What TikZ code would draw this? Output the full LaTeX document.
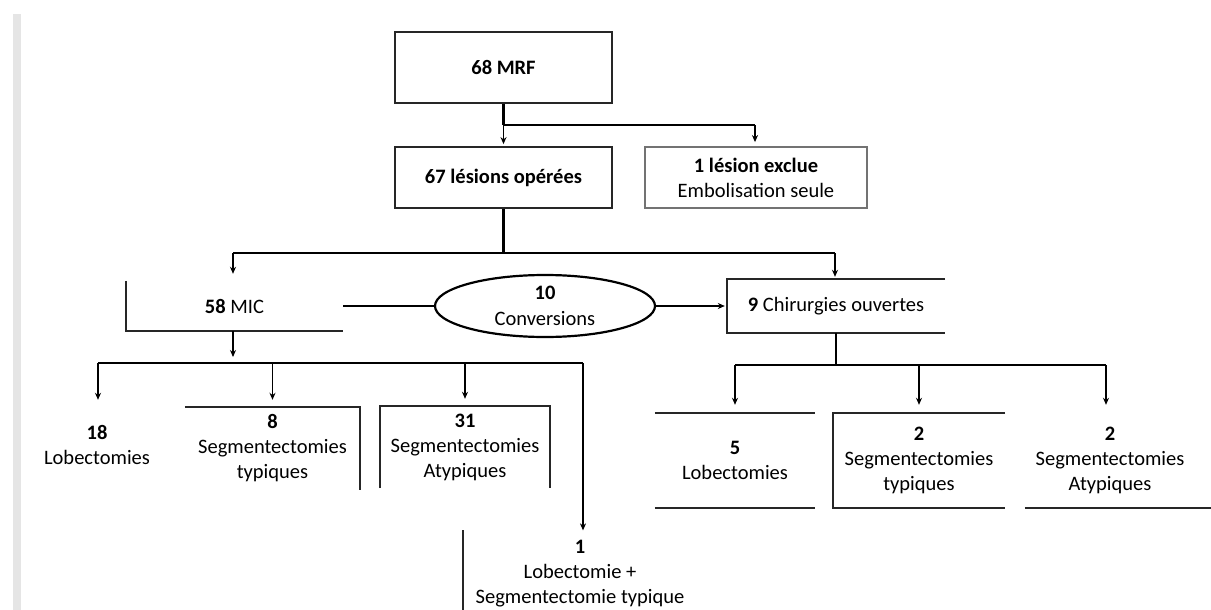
\documentclass[tikz,border=0pt]{standalone}
\usepackage{fontspec}
\setmainfont{Carlito}
\usetikzlibrary{arrows.meta,shapes.geometric}
\begin{document}
\begin{tikzpicture}[x=1pt,y=-1pt,
  txt/.style={font=\fontsize{20.5}{25}\selectfont, align=center, inner sep=0pt},
  frame/.style={txt, rectangle, draw=black!85, line width=1.8pt},
  open/.style={txt, rectangle},
  border/.style={draw=black!85, line width=1.8pt},
  ln/.style={draw=black, line width=2.2pt},
  arr/.style={draw=black, line width=1.8pt, -{Stealth[length=7pt,width=6pt]}, shorten >=#1},
  arr/.default=2pt
]
\useasboundingbox (0,0) rectangle (1211,610);
\fill[white] (0,0) rectangle (1211,610);
\fill[gray!20] (13,14) rectangle (21,610);

% nodes
\node[frame, minimum width=217pt, minimum height=71pt] (mrf) at (503.5,67.5) {\textbf{68 MRF}};
\node[frame, minimum width=217pt, minimum height=61pt] (ops) at (503.5,177.5) {\textbf{67 lésions opérées}};
\node[frame, draw=black!55, minimum width=222pt, minimum height=61pt] (excl) at (756,177.5) {\textbf{1 lésion exclue}\\Embolisation seule};

\node[open, minimum width=217pt, minimum height=50pt] (mic) at (234.5,306) {\textbf{58} MIC};
\node[txt, ellipse, draw=black, line width=2.2pt, minimum width=220pt, minimum height=62pt] (conv) at (545,306) {\textbf{10}\\[1pt]Conversions};
\node[open, minimum width=218pt, minimum height=54pt] (ouv) at (836,306) {\textbf{9} Chirurgies ouvertes};

\node[txt] (lob18) at (97,445) {\textbf{18}\\Lobectomies};
\node[open, minimum width=175pt, minimum height=83pt] (seg8) at (272.5,448.5) {\textbf{8}\\Segmentectomies\\typiques};
\node[open, minimum width=170pt, minimum height=82pt] (seg31) at (465,447) {\textbf{31}\\Segmentectomies\\Atypiques};
\node[txt] (lob1) at (580,574) {\textbf{1}\\Lobectomie +\\Segmentectomie typique};

\node[open, minimum width=160pt, minimum height=95pt] (lob5) at (735,460.5) {\textbf{5}\\Lobectomies};
\node[open, minimum width=172pt, minimum height=95pt] (seg2t) at (919,460.5) {\textbf{2}\\Segmentectomies\\typiques};
\node[open, minimum width=170pt, minimum height=95pt] (seg2a) at (1110,460.5) {\textbf{2}\\Segmentectomies\\Atypiques};

% partial borders
\draw[border] (mic.north west) -- (mic.south west) -- (mic.south east);
\draw[border] (ouv.north east) -- (ouv.north west) -- (ouv.south west) -- (ouv.south east);
\draw[border] (seg8.north west) -- (seg8.north east) -- (seg8.south east);
\draw[border] (seg31.south west) -- (seg31.north west) -- (seg31.north east) -- (seg31.south east);
\draw[border] (463,530) -- (463,612);
\draw[border] (lob5.north west) -- (lob5.north east);
\draw[border] (lob5.south west) -- (lob5.south east);
\draw[border] (seg2t.north east) -- (seg2t.north west) -- (seg2t.south west) -- (seg2t.south east);
\draw[border] (seg2a.south west) -- ++(186,0);

% connectors top
\coordinate (j1) at (503.5,125);
\coordinate (j1r) at (755,125);
\draw[ln] (mrf.south) -- (j1);
\draw[ln] (j1) -- (j1r);
\draw[arr] (j1) -- (ops.north);
\draw[arr=4pt] (j1r) -- (j1r |- excl.north);

\coordinate (j2) at (503.5,253);
\coordinate (j2l) at (233,253);
\coordinate (j2r) at (835,253);
\draw[ln] (ops.south) -- (j2);
\draw[ln] (j2l) -- (j2r);
\draw[arr=7pt] (j2l) -- (j2l |- mic.north);
\draw[arr=2pt] (j2r) -- (j2r |- ouv.north);

\draw[ln] (mic.east) -- (conv.west);
\draw[arr] (conv.east) -- (ouv.west);

% left group
\coordinate (j3) at (233,363);
\coordinate (j3l) at (98,363);
\coordinate (j3r) at (583,363);
\draw[arr=6pt] (mic.south -| j3) -- (j3);
\draw[ln] (j3l) -- (j3r);
\draw[arr=7pt] (j3l) -- (j3l |- seg8.north);
\draw[arr=7pt] (seg8.north |- j3) -- (seg8.north);
\draw[arr=7pt] (seg31.north |- j3) -- (seg31.north);
\draw[arr=10pt] (j3r) -- (lob1.north -| j3r);

% right group
\coordinate (j4) at (836,365);
\coordinate (j4l) at (735,365);
\coordinate (j4r) at (1106,365);
\draw[ln] (ouv.south) -- (j4);
\draw[ln] (j4l) -- (j4r);
\draw[arr=8pt] (j4l) -- (lob5.north);
\draw[arr=8pt] (seg2t.north |- j4) -- (seg2t.north);
\draw[arr=8pt] (j4r) -- (j4r |- seg2a.north);
\end{tikzpicture}
\end{document}
